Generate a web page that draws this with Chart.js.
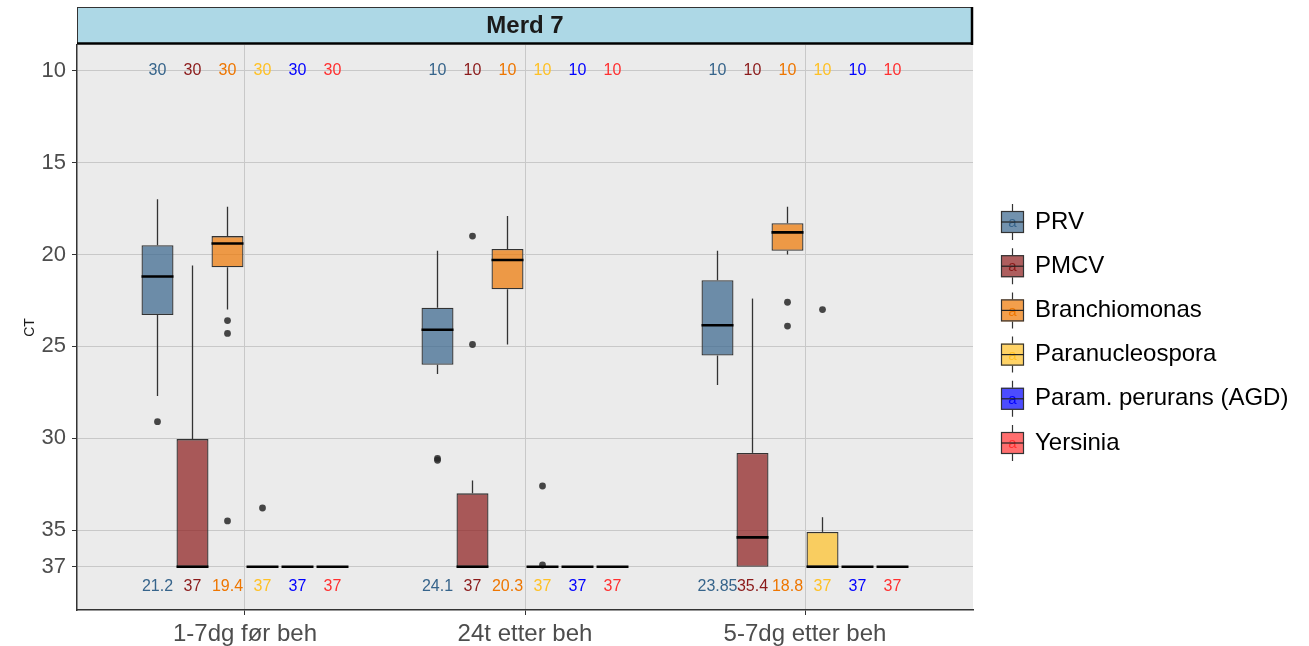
<!DOCTYPE html>
<html>
<head>
<meta charset="utf-8">
<title>Merd 7</title>
<script src="https://cdn.jsdelivr.net/npm/chart.js"></script>
<style>body{margin:0;background:#fff}</style>
</head>
<body>
<canvas id="ctChart" width="1309" height="646"></canvas>
<script>
var categories = ["1-7dg før beh", "24t etter beh", "5-7dg etter beh"];
var seriesNames = ["PRV", "PMCV", "Branchiomonas", "Paranucleospora", "Param. perurans (AGD)", "Yersinia"];
var seriesColors = ["#36648B", "#8B1A1A", "#EE7600", "#FFC125", "#0000FF", "#FF3030"];
var yTicks = [10, 15, 20, 25, 30, 35, 37];

// rows = series (same order as seriesNames), columns = categories
var counts = [
  [30, 10, 10],
  [30, 10, 10],
  [30, 10, 10],
  [30, 10, 10],
  [30, 10, 10],
  [30, 10, 10]
];
var whiskerMin = [
  [17.0, 19.8, 19.8],
  [20.6, 32.3, 22.4],
  [17.4, 17.9, 17.4],
  [37, 37, 34.3],
  [37, 37, 37],
  [37, 37, 37]
];
var q1 = [
  [19.5, 22.9, 21.4],
  [30.05, 33.0, 30.8],
  [19.0, 19.7, 18.3],
  [37, 37, 35.1],
  [37, 37, 37],
  [37, 37, 37]
];
var median = [
  [21.2, 24.1, 23.85],
  [37, 37, 35.4],
  [19.4, 20.3, 18.8],
  [37, 37, 37],
  [37, 37, 37],
  [37, 37, 37]
];
var q3 = [
  [23.3, 26.0, 25.5],
  [37, 37, 37],
  [20.7, 21.9, 19.8],
  [37, 37, 37],
  [37, 37, 37],
  [37, 37, 37]
];
var whiskerMax = [
  [27.7, 26.5, 27.1],
  [37, 37, 37],
  [23.0, 24.9, 20.0],
  [37, 37, 37],
  [37, 37, 37],
  [37, 37, 37]
];
var outliers = [
  [[29.1], [31.1, 31.2], []],
  [[], [19.0, 24.9], []],
  [[23.6, 24.3, 34.5], [], [22.6, 23.9]],
  [[33.8], [32.6, 36.9], [23.0]],
  [[], [], []],
  [[], [], []]
];

function dodge(i) {
  return (i - 2.5) * 0.125;
}

function fade(hex, a) {
  var n = parseInt(hex.slice(1), 16);
  return "rgba(" + (n >> 16) + "," + ((n >> 8) & 255) + "," + (n & 255) + "," + a + ")";
}

var datasets = seriesNames.map(function (name, i) {
  return {
    type: "bar",
    label: name,
    data: categories.map(function (c, j) {
      return { x: j + 1 + dodge(i), y: [q1[i][j], q3[i][j]] };
    }),
    backgroundColor: fade(seriesColors[i], 0.7),
    borderColor: "#333333",
    borderWidth: 1.3,
    borderSkipped: false,
    grouped: false,
    barPercentage: 0.914,
    categoryPercentage: 1
  };
});

var outlierPoints = [];
outliers.forEach(function (row, i) {
  row.forEach(function (vals, j) {
    vals.forEach(function (v) {
      outlierPoints.push({ x: j + 1 + dodge(i), y: v });
    });
  });
});

datasets.push({
  type: "scatter",
  label: "outliers",
  data: outlierPoints,
  pointRadius: 3.4,
  pointBackgroundColor: "rgba(40,40,40,0.85)",
  pointBorderWidth: 0,
  order: -1
});

var boxPlotExtras = {
  id: "boxPlotExtras",
  beforeDraw: function (chart) {
    var ctx = chart.ctx, a = chart.chartArea;
    ctx.save();
    ctx.fillStyle = "#EBEBEB";
    ctx.fillRect(a.left, a.top, a.right - a.left, a.bottom - a.top);
    // facet strip
    ctx.fillStyle = "#ADD8E6";
    ctx.fillRect(a.left, 7, a.right - a.left, a.top - 8);
    ctx.strokeStyle = "#333333";
    ctx.lineWidth = 1;
    ctx.strokeRect(a.left + 0.5, 7.5, a.right - a.left - 1, a.top - 9);
    ctx.strokeStyle = "#000";
    ctx.lineWidth = 2.5;
    ctx.beginPath();
    ctx.moveTo(a.left, a.top - 1.5);
    ctx.lineTo(a.right, a.top - 1.5);
    ctx.moveTo(a.right - 1, 7);
    ctx.lineTo(a.right - 1, a.top);
    ctx.stroke();
    ctx.fillStyle = "#1A1A1A";
    ctx.font = "bold 24px 'Liberation Sans', Arial, sans-serif";
    ctx.textAlign = "center";
    ctx.textBaseline = "middle";
    ctx.fillText("Merd 7", (a.left + a.right) / 2, (7 + a.top) / 2);
    ctx.restore();
  },
  beforeDatasetsDraw: function (chart) {
    var ctx = chart.ctx, y = chart.scales.y;
    ctx.save();
    ctx.strokeStyle = "#333333";
    ctx.lineWidth = 1.3;
    seriesNames.forEach(function (n, i) {
      var meta = chart.getDatasetMeta(i);
      meta.data.forEach(function (bar, j) {
        ctx.beginPath();
        ctx.moveTo(bar.x, y.getPixelForValue(whiskerMin[i][j]));
        ctx.lineTo(bar.x, y.getPixelForValue(q1[i][j]));
        ctx.moveTo(bar.x, y.getPixelForValue(q3[i][j]));
        ctx.lineTo(bar.x, y.getPixelForValue(whiskerMax[i][j]));
        ctx.stroke();
      });
    });
    ctx.restore();
  },
  afterDatasetsDraw: function (chart) {
    var ctx = chart.ctx, y = chart.scales.y;
    ctx.save();
    seriesNames.forEach(function (n, i) {
      var meta = chart.getDatasetMeta(i);
      meta.data.forEach(function (bar, j) {
        var half = bar.width / 2;
        var my = y.getPixelForValue(median[i][j]);
        ctx.strokeStyle = "#000";
        ctx.lineWidth = 2.6;
        ctx.beginPath();
        ctx.moveTo(bar.x - half, my);
        ctx.lineTo(bar.x + half, my);
        ctx.stroke();
        ctx.fillStyle = seriesColors[i];
        ctx.font = "16px 'Liberation Sans', Arial, sans-serif";
        ctx.textAlign = "center";
        ctx.textBaseline = "middle";
        ctx.fillText(String(counts[i][j]), bar.x, y.getPixelForValue(10));
        ctx.fillText(String(median[i][j]), bar.x, y.getPixelForValue(38.1));
      });
    });
    ctx.restore();
  },
  afterDraw: function (chart) {
    var ctx = chart.ctx;
    ctx.save();
    seriesNames.forEach(function (name, i) {
      var cy = 222 + i * 44.2, bx = 1001, bw = 23, bh = 22;
      var cx = bx + bw / 2;
      ctx.strokeStyle = "#333333";
      ctx.lineWidth = 1.2;
      ctx.beginPath();
      ctx.moveTo(cx, cy - 18);
      ctx.lineTo(cx, cy - bh / 2);
      ctx.moveTo(cx, cy + bh / 2);
      ctx.lineTo(cx, cy + 18);
      ctx.stroke();
      ctx.fillStyle = fade(seriesColors[i], 0.7);
      ctx.fillRect(bx, cy - bh / 2, bw, bh);
      ctx.strokeRect(bx + 0.5, cy - bh / 2 + 0.5, bw - 1, bh - 1);
      ctx.fillStyle = seriesColors[i];
      ctx.font = "15px 'Liberation Sans', Arial, sans-serif";
      ctx.textAlign = "center";
      ctx.textBaseline = "middle";
      ctx.fillText("a", cx, cy + 1);
      ctx.strokeStyle = "#222";
      ctx.lineWidth = 1.2;
      ctx.beginPath();
      ctx.moveTo(bx, cy);
      ctx.lineTo(bx + bw, cy);
      ctx.stroke();
      ctx.fillStyle = "#000";
      ctx.font = "24px 'Liberation Sans', Arial, sans-serif";
      ctx.textAlign = "left";
      ctx.fillText(name, 1035, cy);
    });
    ctx.restore();
  }
};

var ctx = document.getElementById("ctChart").getContext("2d");
var ctChart = new Chart(ctx, {
  type: "bar",
  data: { datasets: datasets },
  plugins: [boxPlotExtras],
  options: {
    responsive: false,
    animation: false,
    layout: { padding: { left: 0, top: 45, right: 336, bottom: 0 } },
    plugins: {
      legend: { display: false },
      tooltip: { enabled: false }
    },
    scales: {
      x: {
        type: "linear",
        min: 0.4,
        max: 3.6,
        offset: false,
        afterBuildTicks: function (scale) {
          scale.ticks = categories.map(function (c, j) { return { value: j + 1 }; });
        },
        afterFit: function (scale) { scale.height = 36; },
        ticks: {
          padding: 5,
          color: "#4D4D4D",
          font: { size: 24, family: "'Liberation Sans', Arial, sans-serif" },
          callback: function (v, idx) { return categories[idx]; }
        },
        grid: { offset: false, color: "#C8C8C8", lineWidth: 1, tickLength: 5, tickColor: "#333333" },
        border: { display: true, color: "#333333", width: 1.5 }
      },
      y: {
        type: "linear",
        reverse: true,
        min: 8.6,
        max: 39.35,
        afterBuildTicks: function (scale) {
          scale.ticks = yTicks.map(function (v) { return { value: v }; });
        },
        afterFit: function (scale) { scale.width = 77; },
        title: {
          display: true,
          text: "CT",
          color: "#1A1A1A",
          padding: { top: 22, bottom: 0 },
          font: { size: 14, family: "'Liberation Sans', Arial, sans-serif" }
        },
        ticks: {
          padding: 6,
          color: "#4D4D4D",
          font: { size: 22, family: "'Liberation Sans', Arial, sans-serif" }
        },
        grid: { color: "#C8C8C8", lineWidth: 1, tickLength: 5, tickColor: "#333333" },
        border: { display: true, color: "#333333", width: 1.5 }
      }
    }
  }
});
</script>
</body>
</html>
